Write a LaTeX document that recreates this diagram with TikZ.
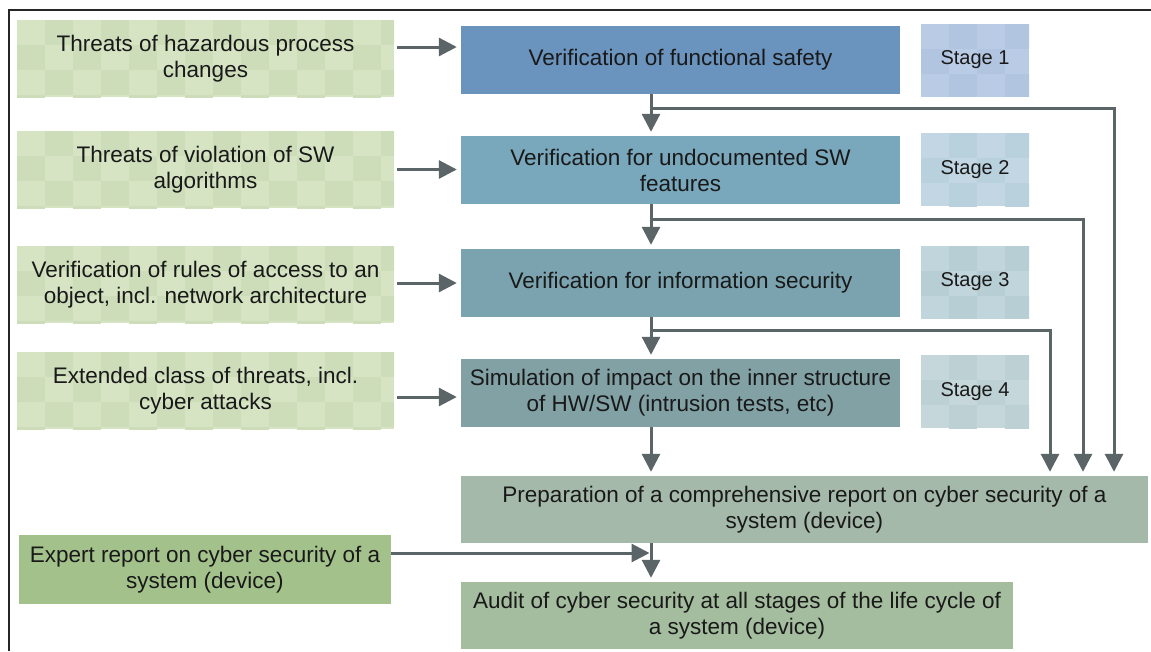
\documentclass[tikz,border=0pt]{standalone}
\usepackage{fontspec}
\setmainfont{Liberation Sans}
\usepackage{tikz}
\usetikzlibrary{arrows.meta}
\definecolor{threatlight}{RGB}{214,228,196}
\definecolor{threatdark}{RGB}{205,221,186}
\definecolor{verone}{RGB}{106,147,190}
\definecolor{vertwo}{RGB}{121,167,187}
\definecolor{verthree}{RGB}{122,163,175}
\definecolor{verfour}{RGB}{129,161,165}
\definecolor{stoneA}{RGB}{186,203,229}
\definecolor{stoneB}{RGB}{177,196,224}
\definecolor{sttwoA}{RGB}{194,215,227}
\definecolor{sttwoB}{RGB}{185,208,221}
\definecolor{stthreeA}{RGB}{192,213,220}
\definecolor{stthreeB}{RGB}{183,206,213}
\definecolor{stfourA}{RGB}{198,215,219}
\definecolor{stfourB}{RGB}{189,208,212}
\definecolor{prepgreen}{RGB}{164,185,169}
\definecolor{auditgreen}{RGB}{165,189,159}
\definecolor{expertgreen}{RGB}{163,194,139}
\definecolor{flowgray}{RGB}{91,100,102}

\begin{document}
\begin{tikzpicture}[x=1pt, y=-1pt,
  checker/.style 2 args={fill=#1, path picture={
    \foreach \i in {0,...,14} \foreach \j in {0,...,3} {
      \pgfmathtruncatemacro{\k}{mod(\i+\j,2)}
      \ifnum\k=1
        \fill[#2] ([shift={(\i*28,\j*25)}]path picture bounding box.north west) rectangle +(28,25);
      \fi
    }}},
  box/.style={inner sep=0pt, align=center, text=black!90,
    font=\fontsize{22.5}{26}\selectfont},
  threat/.style={box, minimum width=377pt, minimum height=77pt,
    checker={threatlight}{threatdark}},
  check/.style={box, minimum width=439pt, minimum height=68pt},
  stagebox/.style={box, minimum width=108pt, minimum height=73pt,
    font=\fontsize{20}{24}\selectfont},
  flow/.style={draw=flowgray, line width=3pt,
    -{Triangle[width=18pt,length=18pt]}, shorten >=4pt}
]
  \useasboundingbox (0,0) rectangle (1151,651);
  \draw[line width=1.5pt, black!85] (9,651) -- (9,10) -- (1151,10);

  % threats
  \node[threat] (thr1) at (205.5,58.5) {Threats of hazardous process\\changes};
  \node[threat] (thr2) at (205.5,169.5) {Threats of violation of SW\\algorithms};
  \node[threat] (thr3) at (205.5,284.5) {Verification of rules of access to an\\object, incl. network architecture};
  \node[threat] (thr4) at (205.5,390.5) {Extended class of threats, incl.\\cyber attacks};

  % verification stages
  \node[check, fill=verone] (ver1) at (680.5,60) {Verification of functional safety};
  \node[check, fill=vertwo] (ver2) at (680.5,170) {Verification for undocumented SW\\features};
  \node[check, fill=verthree] (ver3) at (680.5,283) {Verification for information security};
  \node[check, fill=verfour] (ver4) at (680.5,393) {Simulation of impact on the inner structure\\of HW/SW (intrusion tests, etc)};

  \node[stagebox, checker={stoneA}{stoneB}] (st1) at (975,60) {Stage 1};
  \node[stagebox, checker={sttwoA}{sttwoB}] (st2) at (975,169.5) {Stage 2};
  \node[stagebox, checker={stthreeA}{stthreeB}] (st3) at (975,282) {Stage 3};
  \node[stagebox, checker={stfourA}{stfourB}] (st4) at (975,391.5) {Stage 4};

  \node[box, fill=prepgreen, minimum width=687pt, minimum height=67pt] (prep) at (804.5,509.5)
    {Preparation of a comprehensive report on cyber security of a\\system (device)};
  \node[box, fill=expertgreen, minimum width=372pt, minimum height=69pt] (expert) at (205,569.5)
    {Expert report on cyber security of a\\system (device)};
  \node[box, fill=auditgreen, minimum width=552pt, minimum height=67pt] (audit) at (737,615.5)
    {Audit of cyber security at all stages of the life cycle of\\a system (device)};

  \coordinate (col) at (651,0);
  \coordinate (j1) at (651,108);
  \coordinate (j2) at (651,219);
  \coordinate (j3) at (651,330);
  \coordinate (l1) at (1114,0);
  \coordinate (l2) at (1083,0);
  \coordinate (l3) at (1050,0);

  \draw[flow, shorten <=3pt] ([yshift=11.5pt]thr1.east) -- ([yshift=11.5pt]thr1.east -| ver1.west);
  \draw[flow, shorten <=3pt] (thr2.east) -- (thr2.east -| ver2.west);
  \draw[flow, shorten <=3pt] ([yshift=1.5pt]thr3.east) -- ([yshift=1.5pt]thr3.east -| ver3.west);
  \draw[flow, shorten <=3pt] ([yshift=-6.5pt]thr4.east) -- ([yshift=-6.5pt]thr4.east -| ver4.west);

  \draw[flow] (ver1.south -| col) -- (ver2.north -| col);
  \draw[flow] (ver2.south -| col) -- (ver3.north -| col);
  \draw[flow] (ver3.south -| col) -- (ver4.north -| col);
  \draw[flow] (ver4.south -| col) -- (prep.north -| col);
  \draw[flow] (prep.south -| col) -- (audit.north -| col);

  \draw[flow] (j1) -| (prep.north -| l1);
  \draw[flow] (j2) -| (prep.north -| l2);
  \draw[flow] (j3) -| (prep.north -| l3);

  \draw[flow, shorten >=1.5pt] ([yshift=16.5pt]expert.east) -- ([yshift=16.5pt]expert.east -| col);
\end{tikzpicture}
\end{document}
